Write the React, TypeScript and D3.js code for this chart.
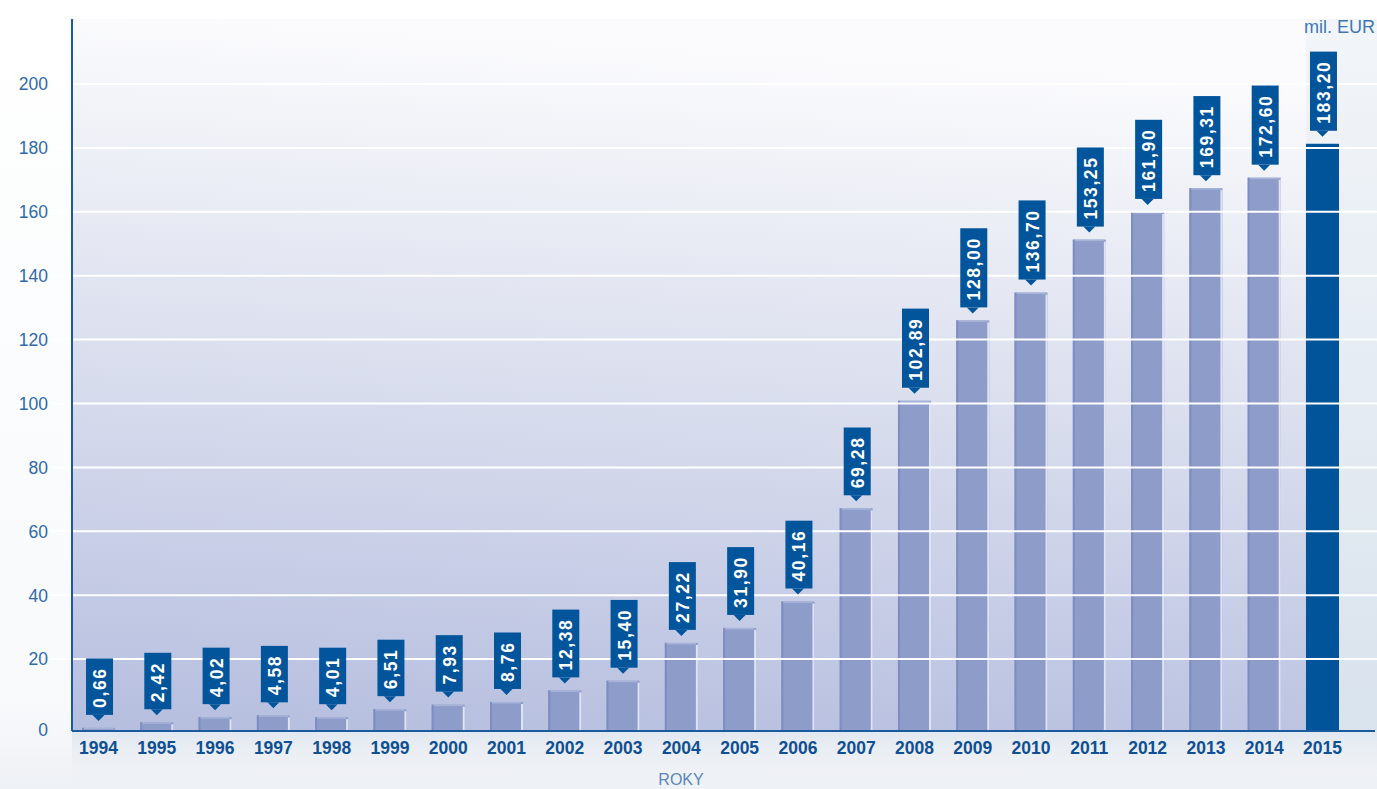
import React, { useRef, useEffect } from "react";
import * as d3 from "d3";

const years = [
  "1994", "1995", "1996", "1997", "1998", "1999", "2000", "2001", "2002", "2003", "2004",
  "2005", "2006", "2007", "2008", "2009", "2010", "2011", "2012", "2013", "2014", "2015",
];
const values = [
  0.66, 2.42, 4.02, 4.58, 4.01, 6.51, 7.93, 8.76, 12.38, 15.4, 27.22,
  31.9, 40.16, 69.28, 102.89, 128.0, 136.7, 153.25, 161.9, 169.31, 172.6, 183.2,
];
const yTicks = [0, 20, 40, 60, 80, 100, 120, 140, 160, 180, 200];
const highlightYear = "2015";
const unitLabel = "mil. EUR";
const axisTitle = "ROKY";

const W = 1377;
const H = 789;
const FONT = "Arial, 'Liberation Sans', Helvetica, sans-serif";

export default function App() {
  const svgRef = useRef<SVGSVGElement>(null);

  useEffect(() => {
    document.body.style.margin = "0";
    if (!svgRef.current) return;
    const svg = d3.select(svgRef.current);
    svg.selectAll("*").remove();

    const axisX = 72;
    const baseY = 730;
    const plotTop = 19;

    const x = d3.scaleBand<string>().domain(years).range([82, 1339]).paddingInner(0.433).paddingOuter(0);
    // grid scale (as printed) and bar scale (bars sit on the axis line)
    const yGrid = d3.scaleLinear().domain([0, 200]).range([723, 84]);
    const y = d3.scaleLinear().domain([0, 200]).range([baseY, 90]);

    const defs = svg.append("defs");
    const pageGrad = defs.append("linearGradient").attr("id", "pageGrad").attr("x1", 0).attr("y1", 0).attr("x2", 0).attr("y2", 1);
    pageGrad.append("stop").attr("offset", "0%").attr("stop-color", "#ffffff");
    pageGrad.append("stop").attr("offset", "90%").attr("stop-color", "#f7f9fb");
    pageGrad.append("stop").attr("offset", "100%").attr("stop-color", "#eef1f5");

    const plotGrad = defs.append("linearGradient").attr("id", "plotGrad").attr("x1", 0.1).attr("y1", 0).attr("x2", 0).attr("y2", 1);
    plotGrad.append("stop").attr("offset", "0%").attr("stop-color", "#fbfbfd");
    plotGrad.append("stop").attr("offset", "30%").attr("stop-color", "#e6e9f3");
    plotGrad.append("stop").attr("offset", "100%").attr("stop-color", "#b6bedf");

    const sideGrad = defs.append("linearGradient").attr("id", "sideGrad").attr("x1", 0).attr("y1", 0).attr("x2", 0).attr("y2", 1);
    sideGrad.append("stop").attr("offset", "0%").attr("stop-color", "#f2f5f9");
    sideGrad.append("stop").attr("offset", "100%").attr("stop-color", "#d9e3ed");

    const belowGrad = defs.append("linearGradient").attr("id", "belowGrad").attr("x1", 0).attr("y1", 0).attr("x2", 0).attr("y2", 1);
    belowGrad.append("stop").attr("offset", "0%").attr("stop-color", "#e0e7ef");
    belowGrad.append("stop").attr("offset", "100%").attr("stop-color", "#eef1f5").attr("stop-opacity", 0);

    const blur = defs.append("filter").attr("id", "glow").attr("x", "-5%").attr("y", "-200%").attr("width", "110%").attr("height", "500%");
    blur.append("feGaussianBlur").attr("stdDeviation", 1.6);

    // page background
    svg.append("rect").attr("width", W).attr("height", H).attr("fill", "url(#pageGrad)");
    svg.append("rect").attr("x", axisX).attr("y", baseY).attr("width", W - axisX).attr("height", H - baseY).attr("fill", "url(#belowGrad)");

    // plot background
    const lastStart = x(highlightYear) || 0;
    svg.append("rect").attr("x", axisX).attr("y", plotTop).attr("width", lastStart - axisX).attr("height", baseY - plotTop).attr("fill", "url(#plotGrad)");
    svg.append("rect").attr("x", lastStart).attr("y", plotTop).attr("width", W - lastStart).attr("height", baseY - plotTop).attr("fill", "url(#sideGrad)");

    // bars
    const bars = svg.append("g");
    years.forEach((yr, i) => {
      const bx = x(yr) || 0;
      const bw = x.bandwidth();
      const top = y(values[i]);
      const hi = yr === highlightYear;
      bars.append("rect").attr("x", bx).attr("y", top).attr("width", bw).attr("height", baseY - top)
        .attr("fill", hi ? "#02549a" : "#8e9cc9");
      if (!hi) {
        bars.append("rect").attr("x", bx).attr("y", top).attr("width", 2).attr("height", baseY - top).attr("fill", "#7e8dc0");
        bars.append("rect").attr("x", bx + bw - 2).attr("y", top + 2).attr("width", 2).attr("height", baseY - top - 2).attr("fill", "#dfe4f3");
        bars.append("rect").attr("x", bx + 2).attr("y", top).attr("width", bw - 4).attr("height", 1.5).attr("fill", "#a7b3d8");
      }
    });

    // grid lines
    const grid = svg.append("g");
    yTicks.filter((t) => t > 0).forEach((t) => {
      grid.append("line").attr("x1", 50).attr("x2", W).attr("y1", yGrid(t)).attr("y2", yGrid(t))
        .attr("stroke", "#8fa6cc").attr("stroke-opacity", 0.55).attr("stroke-width", 5).attr("filter", "url(#glow)");
      grid.append("line").attr("x1", 50).attr("x2", W).attr("y1", yGrid(t)).attr("y2", yGrid(t))
        .attr("stroke", "#ffffff").attr("stroke-width", 2);
    });

    // axes
    svg.append("line").attr("x1", axisX).attr("x2", axisX).attr("y1", plotTop).attr("y2", baseY + 1)
      .attr("stroke", "#1a5a9e").attr("stroke-width", 2);
    svg.append("line").attr("x1", axisX).attr("x2", W - 2).attr("y1", baseY + 1).attr("y2", baseY + 1)
      .attr("stroke", "#1a5a9e").attr("stroke-width", 2);

    // y tick labels
    svg.append("g").selectAll("text").data(yTicks).enter().append("text")
      .attr("x", 48).attr("y", (d: number) => (d === 0 ? baseY : yGrid(d))).attr("dy", "0.36em")
      .attr("text-anchor", "end").attr("fill", "#2f6aa8")
      .attr("font-size", "17.5px").attr("font-family", FONT)
      .text((d: number) => String(d));

    // x tick labels
    svg.append("g").selectAll("text").data(years).enter().append("text")
      .attr("x", (d: string) => (x(d) || 0) + x.bandwidth() / 2).attr("y", 754)
      .attr("text-anchor", "middle").attr("fill", "#0f4f92")
      .attr("font-size", "17.5px").attr("font-weight", "bold").attr("font-family", FONT)
      .text((d: string) => d);

    // value labels
    const labels = svg.append("g");
    years.forEach((yr, i) => {
      const cx = (x(yr) || 0) + x.bandwidth() / 2;
      const tip = y(values[i]) - 7;
      const g = labels.append("g");
      const box = g.append("rect");
      const ptr = g.append("path");
      const txt = g.append("text")
        .attr("fill", "#ffffff").attr("font-size", "17.5px").attr("font-weight", "bold")
        .attr("font-family", FONT).attr("letter-spacing", "1.6px")
        .attr("text-anchor", "middle")
        .text(values[i].toFixed(2).replace(".", ","));
      const len = (txt.node() as SVGTextElement).getComputedTextLength();
      const bh = len + 16;
      const bw = 27;
      const bottom = tip - 6;
      const topY = bottom - bh;
      box.attr("x", cx - bw / 2 + 1).attr("y", topY).attr("width", bw).attr("height", bh).attr("fill", "#03559b");
      ptr.attr("d", `M${cx - 6},${bottom} L${cx + 6},${bottom} L${cx},${tip} Z`).attr("fill", "#03559b");
      const midY = topY + bh / 2;
      txt.attr("transform", `translate(${cx + 1 + 6.5},${midY + 1}) rotate(-90)`);
    });

    // units and axis title
    svg.append("text").attr("x", 1375).attr("y", 33).attr("text-anchor", "end")
      .attr("fill", "#3f77b3").attr("font-size", "18px").attr("font-family", FONT).text(unitLabel);
    svg.append("text").attr("x", 681).attr("y", 785).attr("text-anchor", "middle")
      .attr("fill", "#5a86bb").attr("font-size", "16px").attr("font-family", FONT).text(axisTitle);
  }, []);

  return (
    <svg ref={svgRef} width={W} height={H} style={{ display: "block", position: "absolute", left: 0, top: 0 }} />
  );
}
